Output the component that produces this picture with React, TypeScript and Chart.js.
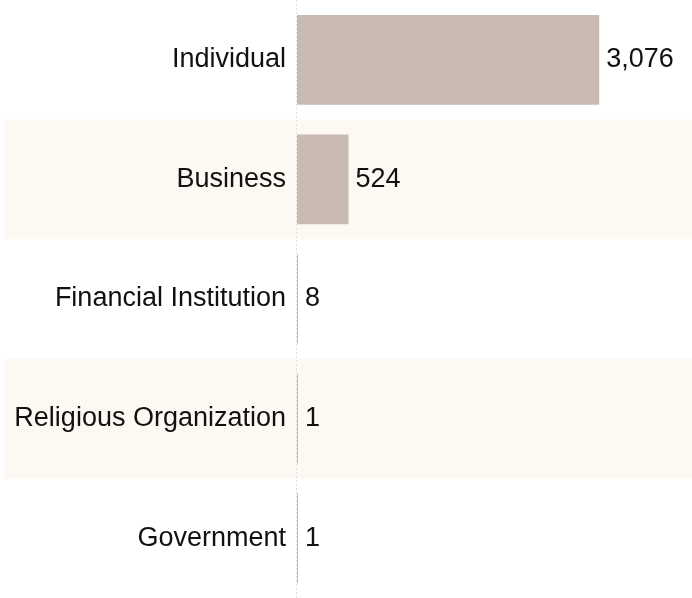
import React, { useEffect, useRef } from "react";
import { Chart, registerables } from "chart.js";

Chart.register(...registerables);

const categories = [
  "Individual",
  "Business",
  "Financial Institution",
  "Religious Organization",
  "Government",
];
const counts = [3076, 524, 8, 1, 1];
const xMax = 4000;

const FONT = "'Liberation Sans', Arial, sans-serif";
const FONT_SIZE = 27;
const BAR_COLOR = "#c9bbb1";
const BAND_COLOR = "#fdf8f1";
const TEXT_COLOR = "#111111";

const bandsPlugin = {
  id: "bands",
  beforeDraw(chart: any) {
    const { ctx, chartArea, scales } = chart;
    const y = scales.y;
    const n = categories.length;
    const step = (chartArea.bottom - chartArea.top) / n;
    ctx.save();
    ctx.fillStyle = BAND_COLOR;
    for (let i = 0; i < n; i++) {
      if (i % 2 === 1) {
        const c = y.getPixelForValue(i);
        ctx.fillRect(4, c - step / 2, chart.width - 4, step);
      }
    }
    // dotted zero line
    const x0 = scales.x.getPixelForValue(0);
    ctx.strokeStyle = "#e2e2e2";
    ctx.lineWidth = 1;
    ctx.setLineDash([2, 2]);
    ctx.beginPath();
    ctx.moveTo(Math.round(x0) - 0.5, 0);
    ctx.lineTo(Math.round(x0) - 0.5, chart.height);
    ctx.stroke();
    ctx.restore();
  },
};

const valueLabelPlugin = {
  id: "valueLabels",
  afterDatasetsDraw(chart: any) {
    const { ctx } = chart;
    const meta = chart.getDatasetMeta(0);
    ctx.save();
    ctx.font = `${FONT_SIZE}px ${FONT}`;
    ctx.fillStyle = TEXT_COLOR;
    ctx.textAlign = "left";
    ctx.textBaseline = "middle";
    meta.data.forEach((bar: any, i: number) => {
      const v = counts[i];
      ctx.fillText(v.toLocaleString("en-US"), bar.x + 7, bar.y);
    });
    ctx.restore();
  },
};

export default function App() {
  const ref = useRef<HTMLCanvasElement>(null);
  useEffect(() => {
    document.body.style.margin = "0";
    const chart = new Chart(ref.current!, {
      type: "bar",
      data: {
        labels: categories,
        datasets: [
          {
            data: counts,
            backgroundColor: BAR_COLOR,
            borderWidth: 0,
            barPercentage: 0.75,
            categoryPercentage: 1,
            minBarLength: 1,
          },
        ],
      },
      options: {
        indexAxis: "y",
        animation: false,
        responsive: false,
        layout: { padding: { left: 0, right: 2, top: 0, bottom: 0 } },
        plugins: {
          legend: { display: false },
          tooltip: { enabled: false },
        },
        scales: {
          x: {
            min: 0,
            max: xMax,
            display: false,
            grid: { display: false },
          },
          y: {
            grid: { display: false, drawTicks: false },
            border: { display: false },
            ticks: {
              padding: 11,
              autoSkip: false,
              color: TEXT_COLOR,
              font: { family: FONT, size: FONT_SIZE },
            },
            afterFit(scale: any) {
              scale.width = 297;
              scale.paddingTop = 0;
              scale.paddingBottom = 0;
            },
          },
        },
      },
      plugins: [bandsPlugin, valueLabelPlugin],
    });
    return () => chart.destroy();
  }, []);
  return (
    <canvas
      ref={ref}
      width={692}
      height={598}
      style={{ display: "block", width: 692, height: 598 }}
    />
  );
}
